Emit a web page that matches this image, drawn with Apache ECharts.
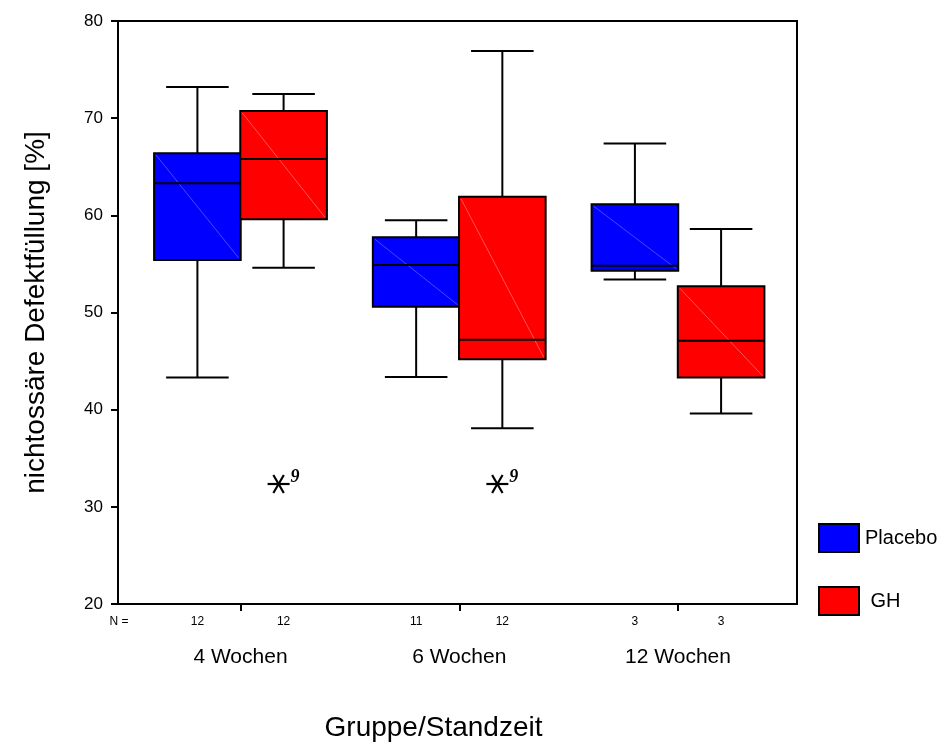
<!DOCTYPE html>
<html><head><meta charset="utf-8">
<script src="https://cdn.jsdelivr.net/npm/echarts@6/dist/echarts.min.js"></script>
<style>html,body{margin:0;padding:0;background:#fff}#c{width:945px;height:747px}</style>
</head><body><div id="c"></div>
<script>
const groups = ['4 Wochen', '6 Wochen', '12 Wochen'];
const seriesNames = ['Placebo', 'GH'];
// [low whisker, Q1, median, Q3, high whisker] per group
const placeboBox = [
  [43.3, 55.4, 63.3, 66.4, 73.2],
  [43.35, 50.6, 54.9, 57.75, 59.5],
  [53.4, 54.3, 54.8, 61.15, 67.4]
];
const ghBox = [
  [54.6, 59.6, 65.8, 70.75, 72.5],
  [38.1, 45.2, 47.2, 61.9, 76.9],
  [39.6, 43.3, 47.1, 52.7, 58.6]
];
const placeboN = ['12', '11', '3'];
const ghN = ['12', '12', '3'];
// outliers: [group index, value, case label]
const ghOutliers = [[0, 32.35, '9'], [1, 32.35, '9']];
const yTicks = [20, 30, 40, 50, 60, 70, 80];

const FONT = '"Liberation Sans", Arial, sans-serif';
const OFF = 0.197, HW = 0.198, CAP = 0.143;
const colors = {Placebo: '#0000ff', GH: '#ff0000'};
const diag = {Placebo: '#5a5aff', GH: '#ff6a6a'};

function boxRender(name, offset) {
  return function (params, api) {
    const g = api.value(0) + 1 + offset;
    const lo = api.value(1), q1 = api.value(2), md = api.value(3), q3 = api.value(4), hi = api.value(5);
    const tl = api.coord([g - HW, q3]), br = api.coord([g + HW, q1]);
    const cx = api.coord([g, md])[0];
    const pm = api.coord([g, md])[1];
    const ph = api.coord([g, hi])[1], pl = api.coord([g, lo])[1];
    const capL = api.coord([g - CAP, hi])[0], capR = api.coord([g + CAP, hi])[0];
    const ls = {stroke: '#000', lineWidth: 2};
    return {type: 'group', children: [
      {type: 'line', shape: {x1: cx, y1: tl[1], x2: cx, y2: ph}, style: ls},
      {type: 'line', shape: {x1: capL, y1: ph, x2: capR, y2: ph}, style: ls},
      {type: 'line', shape: {x1: cx, y1: br[1], x2: cx, y2: pl}, style: ls},
      {type: 'line', shape: {x1: capL, y1: pl, x2: capR, y2: pl}, style: ls},
      {type: 'rect', shape: {x: tl[0], y: tl[1], width: br[0] - tl[0], height: br[1] - tl[1]},
        style: {fill: colors[name], stroke: '#000', lineWidth: 2}},
      {type: 'line', shape: {x1: tl[0] + 2, y1: tl[1] + 2, x2: br[0] - 2, y2: br[1] - 2}, style: {stroke: diag[name], lineWidth: 0.8}},
      {type: 'line', shape: {x1: tl[0], y1: pm, x2: br[0], y2: pm}, style: ls}
    ]};
  };
}

function outlierRender(offset) {
  return function (params, api) {
    const p = api.coord([api.value(0) + 1 + offset, api.value(1)]);
    const x = p[0] - 5, y = p[1];
    const r = 11, s = r * Math.sin(Math.PI / 3), c = r * Math.cos(Math.PI / 3);
    const ls = {stroke: '#000', lineWidth: 2.2};
    return {type: 'group', children: [
      {type: 'line', shape: {x1: x - r, y1: y, x2: x + r, y2: y}, style: ls},
      {type: 'line', shape: {x1: x - c * 0.95, y1: y - s * 0.95, x2: x + c * 0.95, y2: y + s * 0.95}, style: ls},
      {type: 'line', shape: {x1: x + c * 0.95, y1: y - s * 0.95, x2: x - c * 0.95, y2: y + s * 0.95}, style: ls},
      {type: 'text', x: x + 12, y: y - 16, style: {text: api.value(2), font: 'italic bold 18px "Liberation Serif", "Times New Roman", serif', fill: '#000'}}
    ]};
  };
}

const nPositions = [0.445];
const nLabels = ['N ='];
for (let i = 0; i < groups.length; i++) {
  nPositions.push(i + 1 - OFF); nLabels.push(placeboN[i]);
  nPositions.push(i + 1 + OFF); nLabels.push(ghN[i]);
}
function nearestLabel(v) {
  let best = 0;
  for (let i = 0; i < nPositions.length; i++) if (Math.abs(nPositions[i] - v) < Math.abs(nPositions[best] - v)) best = i;
  return nLabels[best];
}

const chart = echarts.init(document.getElementById('c'));
chart.setOption({
  animation: false,
  backgroundColor: '#fff',
  textStyle: {fontFamily: FONT},
  grid: {left: 118, top: 21, right: 148, bottom: 142, show: true, borderColor: '#000', borderWidth: 2, backgroundColor: 'transparent'},
  legend: {
    data: seriesNames, orient: 'vertical', left: 813, top: 518, itemWidth: 40, itemHeight: 28, itemGap: 33,
    icon: 'rect', itemStyle: {borderColor: '#000', borderWidth: 2},
    formatter: n => n === 'GH' ? ' GH' : n,
    textStyle: {fontSize: 20, color: '#000', fontFamily: FONT, padding: [0, 0, 0, 1]}
  },
  xAxis: [
    {type: 'value', min: 0.44, max: 3.544, position: 'bottom',
      name: 'Gruppe/Standzeit', nameLocation: 'middle', nameGap: 110,
      nameTextStyle: {fontSize: 28, color: '#000', fontFamily: FONT, padding: [0, 48, 0, 0]},
      axisLine: {show: true, lineStyle: {color: '#000', width: 2}},
      axisTick: {show: true, customValues: [1, 2, 3], length: 7, lineStyle: {color: '#000', width: 2}},
      axisLabel: {customValues: [1, 2, 3], formatter: v => groups[Math.round(v) - 1], fontSize: 21, color: '#000', margin: 43, fontFamily: FONT},
      splitLine: {show: false}},
    {type: 'value', min: 0.44, max: 3.544, position: 'bottom',
      axisLine: {show: false}, axisTick: {show: false}, splitLine: {show: false},
      axisLabel: {customValues: nPositions, formatter: v => nearestLabel(v), fontSize: 12, color: '#000', margin: 12, fontFamily: FONT, showMinLabel: true}}
  ],
  yAxis: {type: 'value', min: yTicks[0], max: yTicks[yTicks.length - 1], interval: 10,
    name: 'nichtossäre Defektfüllung [%]', nameLocation: 'middle', nameGap: 68,
    nameTextStyle: {fontSize: 28, color: '#000', fontFamily: FONT},
    axisLine: {show: true, lineStyle: {color: '#000', width: 2}},
    axisTick: {show: true, length: 7, lineStyle: {color: '#000', width: 2}},
    axisLabel: {fontSize: 17, color: '#000', margin: 15, fontFamily: FONT},
    splitLine: {show: false}},
  series: [
    {name: 'Placebo', type: 'custom', itemStyle: {color: colors.Placebo},
      renderItem: boxRender('Placebo', -OFF),
      encode: {x: 0, y: [1, 2, 3, 4, 5]},
      data: placeboBox.map((b, i) => [i].concat(b))},
    {name: 'GH', type: 'custom', itemStyle: {color: colors.GH},
      renderItem: boxRender('GH', OFF),
      encode: {x: 0, y: [1, 2, 3, 4, 5]},
      data: ghBox.map((b, i) => [i].concat(b))},
    {name: 'GH Ausreißer', type: 'custom', renderItem: outlierRender(OFF),
      encode: {x: 0, y: 1},
      data: ghOutliers}
  ]
});
</script></body></html>
